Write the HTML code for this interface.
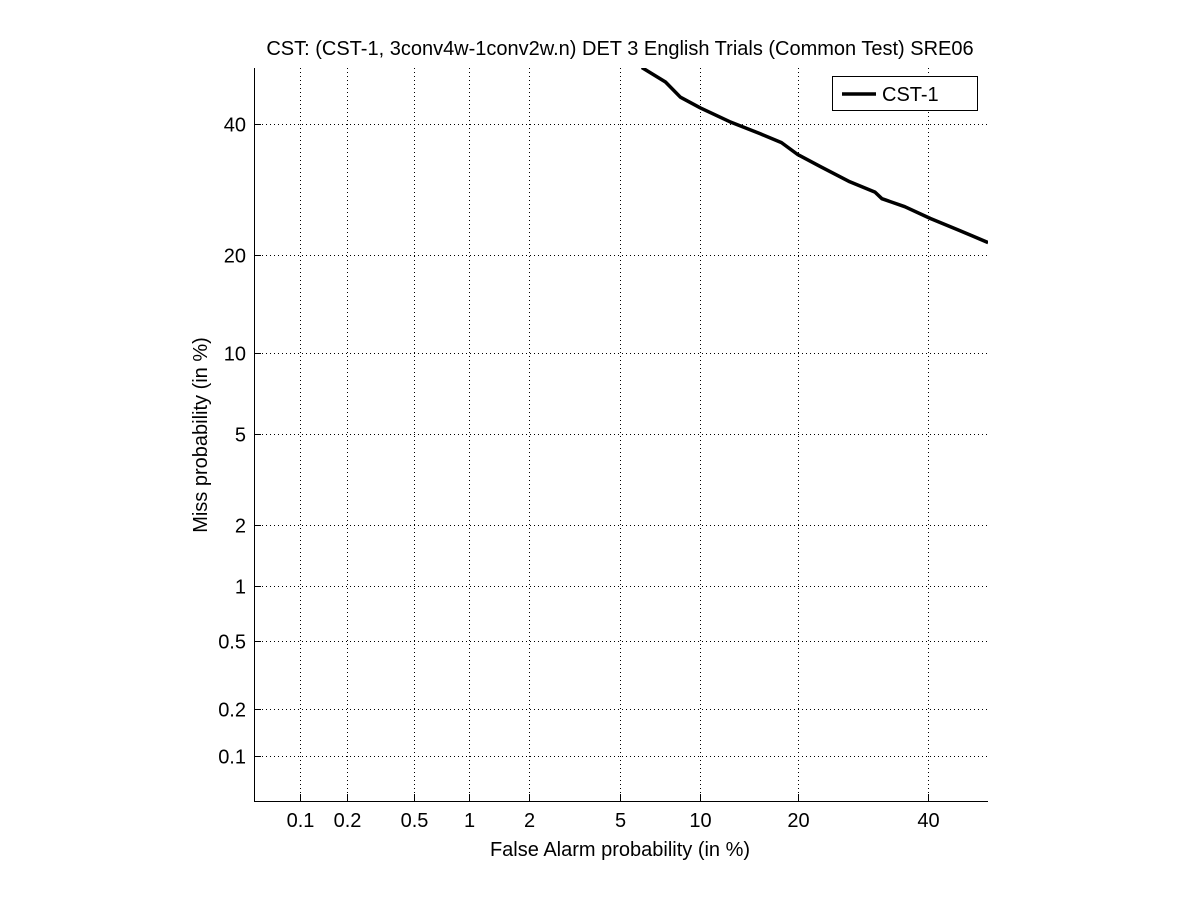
<!DOCTYPE html>
<html><head><meta charset="utf-8"><style>
body{margin:0;background:#fff;}
svg{display:block;font-family:"Liberation Sans",sans-serif;}
</style></head><body>
<svg id="chart" width="1201" height="900" xmlns="http://www.w3.org/2000/svg">
<rect width="1201" height="900" fill="#fff"/>
<text x="620" y="55" font-size="20" text-anchor="middle">CST: (CST-1, 3conv4w-1conv2w.n) DET 3 English Trials (Common Test) SRE06</text>
<text x="620" y="856" font-size="20" text-anchor="middle">False Alarm probability (in %)</text>
<text x="0" y="0" font-size="20" text-anchor="middle" transform="translate(207,435) rotate(-90)">Miss probability (in %)</text>
<g id="grid"></g><g id="axes"></g><g id="series"></g>
<g>
<rect x="832.5" y="76.5" width="145" height="34" fill="#fff" stroke="#000"/>
<line x1="842" y1="94" x2="876" y2="94" stroke="#000" stroke-width="3.5"/>
<text x="882" y="101" font-size="20">CST-1</text>
</g>
</svg>
<script>
const xTicks=[0.1,0.2,0.5,1,2,5,10,20,40];
const yTicks=[0.1,0.2,0.5,1,2,5,10,20,40];
const faValues=[6.1,7.5,8.5,10,12.5,15.6,18,20,23,27.2,31.1,32.2,36,40.4,45.3,47.8,50.7];
const missValues=[50,47.4,44.7,42.8,40.4,38.3,36.8,34.8,32.8,30.4,28.8,27.8,26.6,24.9,23.3,22.5,21.6];
function probit(p){
 const a=[-39.69683028665376,220.9460984245205,-275.9285104469687,138.3577518672690,-30.66479806614716,2.506628277459239];
 const b=[-54.47609879822406,161.5858368580409,-155.6989798598866,66.80131188771972,-13.28068155288572];
 const c=[-0.007784894002430293,-0.3223964580411365,-2.400758277161838,-2.549732539343734,4.374664141464968,2.938163982698783];
 const d=[0.007784695709041462,0.3224671290700398,2.445134137142996,3.754408661907416];
 const pl=0.02425;let q,r;
 if(p<pl){q=Math.sqrt(-2*Math.log(p));return (((((c[0]*q+c[1])*q+c[2])*q+c[3])*q+c[4])*q+c[5])/((((d[0]*q+d[1])*q+d[2])*q+d[3])*q+1);}
 if(p>1-pl){return -probit(1-p);}
 q=p-0.5;r=q*q;return (((((a[0]*r+a[1])*r+a[2])*r+a[3])*r+a[4])*r+a[5])*q/(((((b[0]*r+b[1])*r+b[2])*r+b[3])*r+b[4])*r+1);
}
const X0=254,X1=988,Y0=68,Y1=801;
const xs=v=>300+(probit(v/100)+3.0902)*221.4;
const ys=v=>756-(probit(v/100)+3.0902)*222.8;
const NS='http://www.w3.org/2000/svg';
function mk(t,at,par){const e=document.createElementNS(NS,t);for(const k in at)e.setAttribute(k,at[k]);par.appendChild(e);return e;}
const grid=document.getElementById('grid'),axes=document.getElementById('axes'),ser=document.getElementById('series');
xTicks.forEach(v=>{const x=Math.round(xs(v))+0.5;
 const g=mk('line',{x1:x,y1:Y0,x2:x,y2:Y1,stroke:'#000','stroke-dasharray':'1,3','stroke-width':1},grid);
 
 const t=mk('line',{x1:x,y1:Y1,x2:x,y2:Y1-7,stroke:'#000'},axes);
 
 const l=mk('text',{x:x,y:Y1+26,'font-size':20,'text-anchor':'middle'},axes);l.textContent=String(v);
 });
yTicks.forEach(v=>{const y=Math.round(ys(v))+0.5;
 const g=mk('line',{x1:X0,y1:y,x2:X1,y2:y,stroke:'#000','stroke-dasharray':'1,3','stroke-width':1},grid);
 
 const t=mk('line',{x1:X0,y1:y,x2:X0+7,y2:y,stroke:'#000'},axes);
 
 const l=mk('text',{x:X0-8,y:y+7,'font-size':20,'text-anchor':'end'},axes);l.textContent=String(v);
 });
const ax=mk('path',{d:`M${X0+0.5},${Y0} V${Y1+0.5} H${X1}`,fill:'none',stroke:'#000'},axes);

mk('clipPath',{id:'clip'},ser);document.getElementById('clip').appendChild(document.createElementNS(NS,'rect'));
const cr=document.querySelector('#clip rect');cr.setAttribute('x',X0);cr.setAttribute('y',Y0);cr.setAttribute('width',X1-X0);cr.setAttribute('height',Y1-Y0);
const pts=faValues.map((f,i)=>xs(f).toFixed(1)+','+ys(missValues[i]).toFixed(1)).join(' ');
const pl=mk('polyline',{points:pts,fill:'none',stroke:'#000','stroke-width':3.5,'stroke-linejoin':'round','clip-path':'url(#clip)'},ser);

</script>
</body></html>
